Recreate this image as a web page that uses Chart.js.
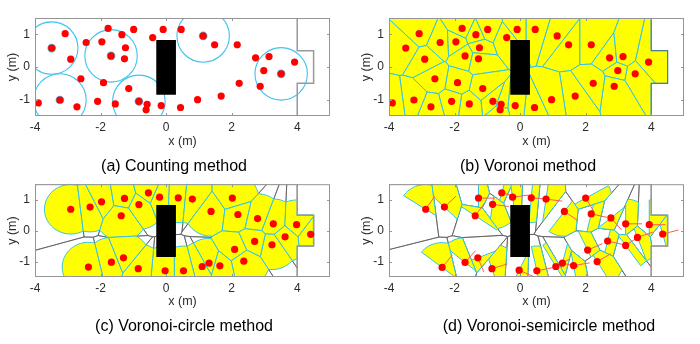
<!DOCTYPE html>
<html>
<head>
<meta charset="utf-8">
<script src="https://cdn.jsdelivr.net/npm/chart.js@4.4.0/dist/chart.umd.min.js"></script>
<style>
  html, body { margin: 0; padding: 0; background: #fff; }
  #wrap { position: relative; width: 700px; height: 344px; overflow: hidden; }
  .panel { position: absolute; width: 350px; height: 172px; }
  .caption {
    position: absolute; width: 300px; text-align: center; color: #000;
    font-family: "Liberation Sans", Arial, sans-serif;
    font-size: 16px; line-height: 20px; white-space: nowrap;
  }
</style>
</head>
<body>
<div id="wrap">
  <div class="panel" style="left:0;top:0"><canvas id="chartA" width="350" height="172"></canvas></div>
  <div class="panel" style="left:354px;top:0"><canvas id="chartB" width="350" height="172"></canvas></div>
  <div class="panel" style="left:0;top:172px"><canvas id="chartC" width="350" height="172"></canvas></div>
  <div class="panel" style="left:354px;top:172px"><canvas id="chartD" width="350" height="172"></canvas></div>
  <div class="caption" style="left:24px;top:156px">(a) Counting method</div>
  <div class="caption" style="left:378px;top:156px">(b) Voronoi method</div>
  <div class="caption" style="left:34px;top:316px">(c) Voronoi-circle method</div>
  <div class="caption" style="left:399px;top:316px">(d) Voronoi-semicircle method</div>
</div>
<script>
'use strict'

const xTicks = [-4, -2, 0, 2, 4];
const yTicks = [-1, 0, 1];

// pedestrians for (a) and (b)
const crowdX = [-3.49, -3.08, -2.91, -2.44, -1.96, -1.77, -1.68, -1.35, -1.24, -1.27, -0.99, -0.41, -0.09, 0.46,
    1.13, 1.48, 2.17, 2.73, 3.14, 3.92, 2.98, 3.51, 2.87, 2.23, 1.68, 0.96, 0.44, -0.15, -0.58, -0.61, -0.83,
    -1.14, -1.55, -1.91, -2.09, -2.6, -2.72, -3.24, -3.9];
const crowdY = [0.58, 1.02, 0.24, 0.75, 0.77, 1.18, 0.34, 0.99, 0.59, 0.25, 1.15, 0.9, 1.15, 1.15,
    0.95, 0.68, 0.68, 0.28, 0.32, 0.15, -0.11, -0.21, -0.59, -0.5, -0.89, -1.0, -1.24, -1.18, -1.14, -1.31, -1.05,
    -0.66, -1.13, -0.48, -1.05, -0.36, -1.22, -1.01, -1.1];

// centres of the counting circles in (a)
const probeX = [-3.49, -1.68, 1.13, 3.51, -3.24, -0.83];
const probeY = [0.58, 0.34, 0.95, -0.21, -1.01, -1.05];

// pedestrians for (c)
const circX = [-2.91, -2.32, -1.97, -1.27, -0.54, -0.2, 0.37, 0.8, 2.02, 1.37, 2.19, -1.37, -0.83, 2.79, 3.27, 3.98,
    4.41, 3.63, 3.23, 2.7, 2.09, 2.37, 1.64, 1.31, 1.1, 0.53, -0.03, -0.85, -1.3, -1.67, -2.37];
const circY = [0.69, 0.76, 0.93, 1.04, 1.22, 1.08, 1.06, 1.02, 1.05, 0.62, 0.52, 0.48, 0.84, 0.39, 0.22, 0.19,
    -0.12, -0.2, -0.46, -0.35, -0.61, -0.99, -1.14, -1.05, -1.16, -1.3, -1.3, -1.23, -0.88, -1.02, -1.18];

// pedestrians for (d), heading in degrees
const semiX = [-2.88, -2.31, -1.37, -1.27, -0.84, -0.56, -0.23, 0.34, 0.79, 2.0, 2.17, 1.35, 2.77, 3.22, 3.94,
    4.35, 3.58, 3.22, 2.67, 2.06, 2.35, 1.63, 1.29, 1.09, 0.51, -0.03, -0.86, -1.29, -1.68, -2.38];
const semiY = [0.69, 0.76, 0.48, 1.05, 0.85, 1.22, 1.08, 1.06, 1.02, 1.05, 0.54, 0.62, 0.41, 0.22, 0.19,
    -0.11, -0.22, -0.48, -0.34, -0.63, -1.0, -1.13, -1.05, -1.16, -1.3, -1.28, -1.23, -0.88, -1.03, -1.19];
const semiHead = [57, 45, 55, 0, -8, -15, 8, -5, -8, -60, -13, -36, -50, 0, 0,
    15, 20, 35, -13, 25, 31, 10, -14, 30, 12, -25, 18, -68, 50, 52];

// geometry of the corridor
const room = [[-4, -1.5], [4, -1.5], [4, -0.5], [4.5, -0.5], [4.5, 0.5], [4, 0.5], [4, 1.5], [-4, 1.5]];
const wall = [[4, 1.5], [4, 0.5], [4.5, 0.5], [4.5, -0.5], [4, -0.5], [4, -1.5]];
const pillar = [[-0.3, -0.85], [0.3, -0.85], [0.3, 0.83], [-0.3, 0.83]];
const radius = 0.8;

const FONT = '"Liberation Sans", Arial, sans-serif';

// keep the side where a*x + b*y <= c
function clipHalf(poly, a, b, c) {
    const out = [];
    for (let i = 0; i < poly.length; i++) {
        const p = poly[i], q = poly[(i + 1) % poly.length];
        const dp = a * p[0] + b * p[1] - c, dq = a * q[0] + b * q[1] - c;
        if (dp <= 0) out.push(p);
        if ((dp < 0 && dq > 0) || (dp > 0 && dq < 0)) {
            const t = dp / (dp - dq);
            out.push([p[0] + t * (q[0] - p[0]), p[1] + t * (q[1] - p[1])]);
        }
    }
    return out;
}

function voronoiCell(pts, i) {
    let poly = room;
    const [xi, yi] = pts[i];
    pts.forEach(([xj, yj], j) => {
        if (j === i || poly.length === 0) return;
        poly = clipHalf(poly, xj - xi, yj - yi, (xj * xj + yj * yj - xi * xi - yi * yi) / 2);
    });
    return poly;
}

function clipDisk(poly, c, r) {
    const n = 72;
    for (let k = 0; k < n && poly.length; k++) {
        const t = 2 * Math.PI * k / n, ca = Math.cos(t), sa = Math.sin(t);
        poly = clipHalf(poly, ca, sa, ca * c[0] + sa * c[1] + r);
    }
    return poly;
}

function scene(mode, xs, ys, heads) {
    return {
        id: 'scene' + mode,
        beforeDatasetsDraw(chart) {
            const ctx = chart.ctx, sx = chart.scales.x, sy = chart.scales.y, a = chart.chartArea;
            const P = (x, y) => [sx.getPixelForValue(x), sy.getPixelForValue(y)];
            const path = (poly, closed) => {
                ctx.beginPath();
                poly.forEach((p, i) => {
                    const q = P(p[0], p[1]);
                    if (i) ctx.lineTo(q[0], q[1]); else ctx.moveTo(q[0], q[1]);
                });
                if (closed) ctx.closePath();
            };
            ctx.save();
            ctx.beginPath();
            ctx.rect(a.left, a.top, a.right - a.left, a.bottom - a.top);
            ctx.clip();
            const pts = xs.map((x, i) => [x, ys[i]]);

            if (mode === 'count') {
                ctx.strokeStyle = '#3ec2ee';
                ctx.lineWidth = 1.1;
                probeX.forEach((x, i) => {
                    const c = P(x, probeY[i]);
                    const rp = sx.getPixelForValue(x + radius) - c[0];
                    ctx.beginPath();
                    ctx.arc(c[0], c[1], rp, 0, 2 * Math.PI);
                    ctx.stroke();
                });
            } else {
                const cells = pts.map((p, i) => voronoiCell(pts, i));
                if (mode !== 'voronoi') {
                    ctx.strokeStyle = '#555';
                    ctx.lineWidth = 0.7;
                    cells.forEach(c => { if (c.length) { path(c, true); ctx.stroke(); } });
                }
                cells.forEach((c, i) => {
                    let poly = c;
                    if (mode === 'circle') poly = clipDisk(c, pts[i], radius);
                    if (mode === 'semi') {
                        const h = heads[i] * Math.PI / 180, hx = Math.cos(h), hy = Math.sin(h);
                        poly = clipHalf(c, -hx, -hy, -(hx * pts[i][0] + hy * pts[i][1]));
                        poly = clipDisk(poly, pts[i], radius);
                    }
                    if (poly.length < 3) return;
                    path(poly, true);
                    ctx.fillStyle = '#ffff00';
                    ctx.fill();
                    ctx.strokeStyle = '#33c3e3';
                    ctx.lineWidth = 1;
                    ctx.stroke();
                });
                if (mode === 'semi') {
                    ctx.strokeStyle = '#ff5a5a';
                    ctx.lineWidth = 1;
                    pts.forEach((p, i) => {
                        const h = heads[i] * Math.PI / 180;
                        path([p, [p[0] + 0.5 * Math.cos(h), p[1] + 0.5 * Math.sin(h)]], false);
                        ctx.stroke();
                    });
                }
            }
            path(pillar, true);
            ctx.fillStyle = '#000';
            ctx.fill();
            path(wall, false);
            ctx.strokeStyle = mode === 'voronoi' ? '#4f7f8a' : '#9a9a9a';
            ctx.lineWidth = mode === 'voronoi' ? 1.2 : 1.5;
            ctx.stroke();
            ctx.restore();
        },
        afterDraw(chart) {
            const ctx = chart.ctx, a = chart.chartArea, sx = chart.scales.x, sy = chart.scales.y;
            ctx.save();
            ctx.strokeStyle = '#959595';
            ctx.lineWidth = 1;
            ctx.strokeRect(a.left + 0.5, a.top + 0.5, a.right - a.left - 1, a.bottom - a.top - 1);
            ctx.beginPath();
            xTicks.forEach(v => {
                const x = Math.round(sx.getPixelForValue(v)) + 0.5;
                ctx.moveTo(x, a.bottom); ctx.lineTo(x, a.bottom - 3);
                ctx.moveTo(x, a.top); ctx.lineTo(x, a.top + 3);
            });
            yTicks.forEach(v => {
                const y = Math.round(sy.getPixelForValue(v)) + 0.5;
                ctx.moveTo(a.left, y); ctx.lineTo(a.left + 3, y);
                ctx.moveTo(a.right, y); ctx.lineTo(a.right - 3, y);
            });
            ctx.stroke();
            ctx.restore();
        }
    };
}

function makeChart(id, mode, xs, ys, heads, bottomRow) {
    const datasets = [{
        data: xs.map((x, i) => ({ x: x, y: ys[i] })),
        backgroundColor: '#ff0000',
        borderWidth: 0,
        pointRadius: 3.6,
        pointHoverRadius: 3.6
    }];
    if (mode === 'count') {
        datasets.push({
            data: probeX.map((x, i) => ({ x: x, y: probeY[i] })),
            backgroundColor: '#ff0000',
            borderColor: '#3ec2ee',
            borderWidth: 1.5,
            pointRadius: 3.6,
            pointHoverRadius: 3.6
        });
    }
    return new Chart(document.getElementById(id).getContext('2d'), {
        type: 'scatter',
        data: { datasets: datasets },
        options: {
            responsive: false,
            animation: false,
            events: [],
            layout: { padding: { top: bottomRow ? 7 : 18, right: 20, left: 0, bottom: bottomRow ? 35 : 23 } },
            scales: {
                x: {
                    type: 'linear', min: -4, max: 5,
                    afterBuildTicks: s => { s.ticks = xTicks.map(v => ({ value: v })); },
                    afterFit: s => { s.height = bottomRow ? 32 : 33; },
                    grid: { display: false, drawTicks: false },
                    border: { display: false },
                    ticks: { padding: 4, color: '#2b2b2b', font: { family: FONT, size: 12 } },
                    title: { display: true, text: 'x (m)', color: '#2b2b2b', padding: 0, font: { family: FONT, size: 12.5 } }
                },
                y: {
                    type: 'linear', min: -1.5, max: 1.5,
                    afterBuildTicks: s => { s.ticks = yTicks.map(v => ({ value: v })); },
                    afterFit: s => { s.width = 35; },
                    grid: { display: false, drawTicks: false },
                    border: { display: false },
                    ticks: { padding: 5, color: '#2b2b2b', font: { family: FONT, size: 12 } },
                    title: { display: true, text: 'y (m)', color: '#2b2b2b', padding: { top: 5, bottom: 0 }, font: { family: FONT, size: 12.5 } }
                }
            },
            plugins: {
                legend: { display: false },
                tooltip: { enabled: false },
                title: { display: false }
            }
        },
        plugins: [scene(mode, xs, ys, heads)]
    });
}

document.addEventListener('DOMContentLoaded', function() {
    makeChart('chartA', 'count', crowdX, crowdY, null, false);
    makeChart('chartB', 'voronoi', crowdX, crowdY, null, false);
    makeChart('chartC', 'circle', circX, circY, null, true);
    makeChart('chartD', 'semi', semiX, semiY, semiHead, true);
});
</script>
</body>
</html>
